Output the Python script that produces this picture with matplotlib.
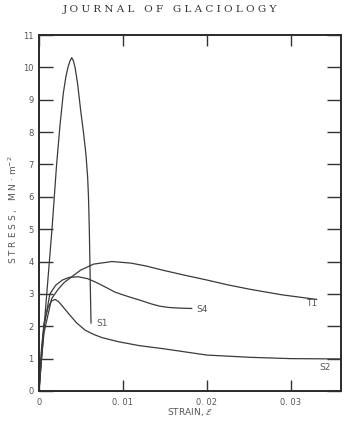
import matplotlib
matplotlib.use('Agg')
import matplotlib.pyplot as plt

# Stress-strain curves (strain, stress in MN m^-2)
s1_strain = [0, 0.0004, 0.0008, 0.00155, 0.0021, 0.0025, 0.0029, 0.0032, 0.00345, 0.0037, 0.0039,
             0.0041, 0.0043, 0.0046, 0.0050, 0.0053, 0.0056, 0.0058, 0.0059, 0.0060, 0.0061, 0.0062]
s1_stress = [0, 1.3, 2.6, 5.0, 7.0, 8.2, 9.2, 9.7, 10.0, 10.2, 10.3,
             10.2, 10.0, 9.5, 8.6, 8.0, 7.3, 6.6, 6.0, 5.0, 3.5, 2.1]

s2_strain = [0, 0.0003, 0.0006, 0.0011, 0.0015, 0.0019, 0.0023, 0.0027, 0.0035, 0.0045,
             0.0055, 0.0065, 0.0075, 0.0095, 0.012, 0.015, 0.02, 0.0252, 0.030, 0.036]
s2_stress = [0, 1.3, 2.1, 2.6, 2.78, 2.83, 2.77, 2.65, 2.4, 2.1,
             1.88, 1.75, 1.65, 1.52, 1.4, 1.3, 1.11, 1.04, 1.0, 0.99]

s4_strain = [0, 0.0003, 0.0006, 0.0013, 0.0020, 0.0028, 0.0036, 0.0047, 0.0058, 0.0067, 0.0080,
             0.0091, 0.0106, 0.0121, 0.0134, 0.0144, 0.0155, 0.0168, 0.0182]
s4_stress = [0, 1.2, 2.0, 3.0, 3.27, 3.43, 3.51, 3.53, 3.47, 3.37, 3.2,
             3.05, 2.92, 2.8, 2.69, 2.62, 2.58, 2.56, 2.55]

t1_strain = [0, 0.0003, 0.0006, 0.0015, 0.0023, 0.003, 0.004, 0.0050, 0.0065, 0.0087, 0.011,
             0.0128, 0.0148, 0.0175, 0.020, 0.0225, 0.0252, 0.029, 0.0331]
t1_stress = [0, 1.0, 1.8, 2.85, 3.15, 3.35, 3.55, 3.74, 3.92, 4.0, 3.95,
             3.86, 3.73, 3.57, 3.43, 3.28, 3.14, 2.97, 2.83]

labels = ['S1', 'S2', 'S4', 'T1']
label_pos = [(0.0075, 2.1), (0.0341, 0.74), (0.0194, 2.53), (0.0325, 2.7)]

x_ticks = [0, 0.01, 0.02, 0.03]
x_ticklabels = ['0', '0. 01', '0. 02', '0. 03']
y_ticks = list(range(0, 12))

fig = plt.figure(figsize=(3.6, 4.26), dpi=100)
ax = fig.add_axes([0.1083, 0.0822, 0.8389, 0.8356])

line_kw = dict(color='#3a3a3a', linewidth=0.9)
ax.plot(s1_strain, s1_stress, **line_kw)
ax.plot(s2_strain, s2_stress, **line_kw)
ax.plot(s4_strain, s4_stress, **line_kw)
ax.plot(t1_strain, t1_stress, **line_kw)

for name, (x, y) in zip(labels, label_pos):
    ax.text(x, y, name, fontsize=6.5, color='#555555', ha='center', va='center')

ax.set_xlim(0, 0.036)
ax.set_ylim(0, 11)
ax.set_xticks(x_ticks)
ax.set_xticklabels(x_ticklabels)
ax.set_yticks(y_ticks)

ax.tick_params(axis='both', direction='in', length=10, width=1.0, color='#333333',
               labelsize=6, labelcolor='#555555', top=True, right=True)
ax.tick_params(axis='x', length=8, pad=5)
ax.tick_params(axis='y', pad=4)
for s in ax.spines.values():
    s.set_linewidth(1.4)
    s.set_color('#2a2a2a')

fig.text(0.528, 0.033, 'STRAIN, $\\mathcal{E}$', fontsize=6.5, color='#555555',
         ha='center', va='center')
fig.text(0.036, 0.507, 'S T R E S S ,   M N · m$^{-2}$', fontsize=6.5, color='#555555',
         ha='center', va='center', rotation=90)

fig.text(0.472, 0.978, 'J O U R N A L   O F   G L A C I O L O G Y', fontsize=7.5,
         family='DejaVu Serif', color='#333333', ha='center', va='center')

fig.savefig('out.png', dpi=100)
